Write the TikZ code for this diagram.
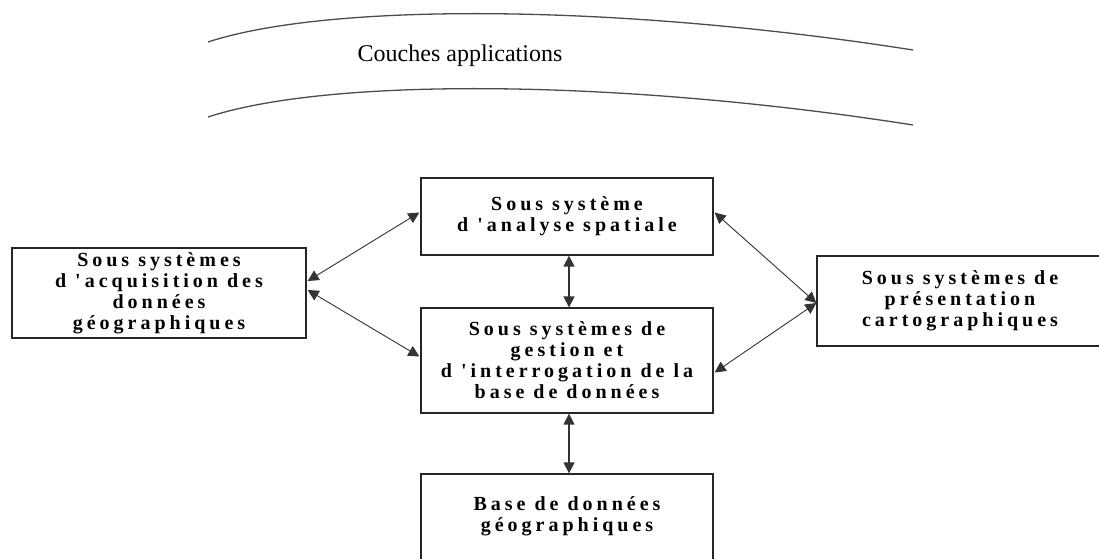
\documentclass[tikz,border=0pt]{standalone}
\usepackage{fontspec}
\setmainfont{Liberation Serif}
\newfontfamily\boxfont[LetterSpace=20]{Liberation Serif}
\usetikzlibrary{arrows.meta,calc}
\begin{document}
\begin{tikzpicture}[x=1pt,y=-1pt,
  sysbox/.style={draw=black!85,line width=1.3pt,fill=white,align=center,inner sep=0pt,
    font=\boxfont\bfseries\fontsize{20}{21}\selectfont},
  txt/.style={align=center,inner sep=0pt,font=\boxfont\bfseries\fontsize{20}{21}\selectfont},
  link/.style={draw=black!80,line width=0.9pt,{Triangle[length=11pt,width=11pt]}-{Triangle[length=11pt,width=11pt]}},
  vlink/.style={link,line width=1.5pt},
  layer/.style={draw=black!70,line width=1.3pt}]
\useasboundingbox (0,0) rectangle (1099,558);
\clip (0,0) rectangle (1099,558);

% application layer band
\draw[layer] (208,42) .. controls (330,2) and (620,4) .. (913,50);
\draw[layer] (208,117) .. controls (330,77) and (620,79) .. (913,125);
\node[anchor=base,inner sep=0pt,font=\fontsize{24}{28}\selectfont] (couches) at (460,61) {Couches applications};

% subsystems
\node[sysbox,minimum width=294,minimum height=90] (acq) at (159,293)
  {Sous systèmes\\d 'acquisition des\\données\\géographiques};
\node[sysbox,minimum width=292,minimum height=77] (ana) at (567,216.5)
  {Sous système\\d 'analyse spatiale};
\node[sysbox,minimum width=292,minimum height=105] (ges) at (567,360.5)
  {Sous systèmes de\\gestion et\\d 'interrogation de la\\base de données};
\node[sysbox,minimum width=286,minimum height=90] (pre) at (960,301)
  {Sous systèmes de\\présentation\\cartographiques};
\node[sysbox,minimum width=292,minimum height=106] (bdd) at (567,527) {};
\node[txt] (bddtext) at (567,516) {Base de données\\géographiques};

% exchanges between subsystems
\draw[link] ($(acq.east)+(1,-12)$) -- ($(ana.west)+(-1,-4)$);
\draw[link] ($(acq.east)+(1,-3)$) -- ($(ges.west)+(-1,-4)$);
\draw[vlink] ($(ana.south)+(2,0)$) -- ($(ges.north)+(2,0)$);
\draw[vlink] ($(ges.south)+(2,0)$) -- ($(bdd.north)+(2,0)$);
\draw[link] ($(pre.west)+(0,2)$) -- ($(ana.east)+(1,-4)$);
\draw[link] ($(pre.west)+(0,2)$) -- ($(ges.east)+(1,12)$);
\end{tikzpicture}
\end{document}
